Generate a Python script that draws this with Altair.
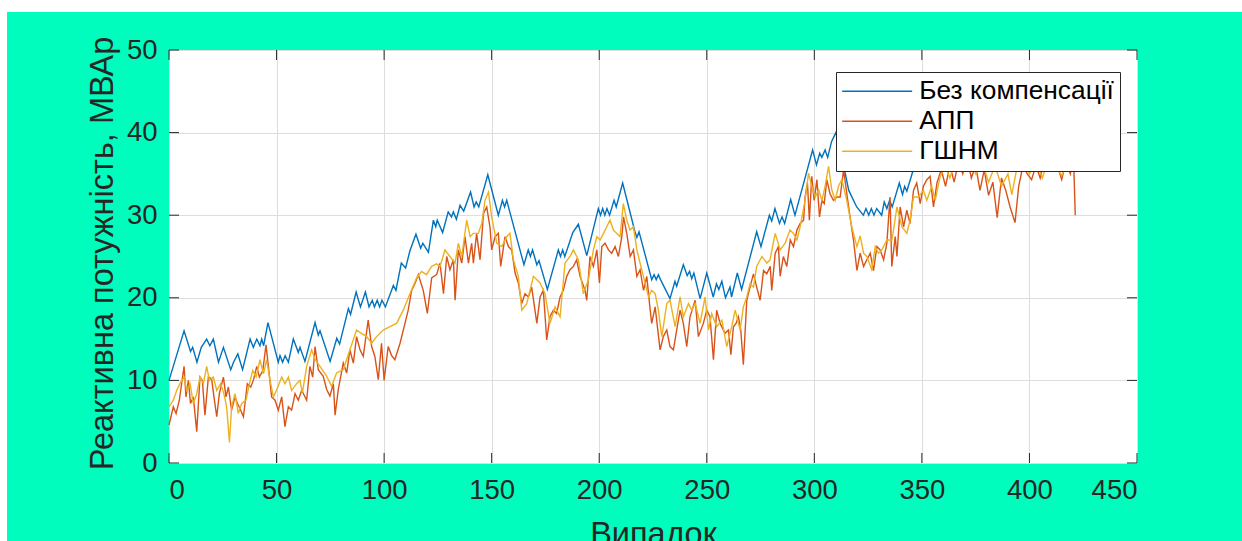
import altair as alt
import pandas as pd

# ---------------- data ----------------
series_names = ["Без компенсації", "АПП", "ГШНМ"]
series_colors = ["#0072BD", "#D95319", "#EDB120"]

x_ticks = [0, 50, 100, 150, 200, 250, 300, 350, 400, 450]
y_ticks = [0, 10, 20, 30, 40, 50]

blue_x = [0, 7, 10, 11, 13, 15, 17.5, 19, 20.6, 23, 25.3, 28.7, 30, 32, 34.2, 37.7, 39.2, 40.8, 42.3, 43.1, 44, 46,
          50.8, 51.6, 52.8, 54, 55.5, 57.8, 60.1, 60.9, 63.2, 67.9, 69.4, 70.2, 74.9, 78, 79.3, 83.4, 84.4, 87, 89,
          91.3, 93, 94.5, 95.5, 96.8, 97.9, 99, 100.6, 104.3, 105.5, 108, 110, 112, 114.8, 117, 118, 120.6, 122.9,
          124, 124.7, 127.2, 129.8, 131.3, 132.2, 133.6, 135.3, 137, 140.2, 141.8, 142.8, 144, 148.2, 153.1, 155,
          156, 157, 165, 167, 168, 169, 171, 172, 175.9, 181, 182, 183, 184, 187.7, 190.3, 194.2, 199.6, 200.6,
          201.6, 202.6, 203.6, 204.8, 206.9, 207.9, 210.9, 216.6, 217.5, 218.5, 224.4, 225.5, 226.5, 227.5, 228.5,
          232.9, 235.2, 236, 239.1, 240.9, 242, 243, 244, 246.9, 250, 253, 254.5, 255.6, 257, 258.7, 260.8, 261.5,
          264.2, 266.2, 273.2, 275.2, 279.1, 280.2, 281.7, 283.8, 285, 286.2, 289, 291, 299.2, 301, 302.5, 303.5,
          305, 306.2, 308, 310, 312, 316, 319.7, 322.8, 324, 325.3, 326.5, 327.7, 329, 331.3, 332.5, 333.7, 335,
          336.2, 339.5, 341, 342, 343, 344.5, 346, 349, 352, 356, 360, 365, 370, 375, 380, 385, 390, 395, 400, 405,
          410, 415, 420, 422]
blue_y = [10, 16, 13.5, 14, 12.2, 14, 15, 14.2, 15, 12.2, 14, 11.3, 12.2, 13.2, 11.3, 15, 14, 15, 14.2, 15, 14.2, 17,
          12.2, 13, 12.2, 13, 12.2, 15, 13.4, 14, 12.3, 17, 15.5, 16, 12.3, 15.1, 14.4, 18.7, 18, 20.7, 18.9,
          20.7, 18.9, 19.7, 18.9, 19.7, 18.9, 19.7, 18.9, 21.5, 20.9, 24.2, 23.6, 25.7, 27.7, 26, 26.6, 25.5, 29.4,
          28.6, 29.4, 27.9, 30.4, 29.8, 30.4, 29.5, 31.2, 30.5, 32.8, 31, 31.6, 31, 34.9, 30, 31.8,
          31, 31.8, 24, 25.8, 25, 25.8, 24, 24.5, 21, 25.8, 25, 25.8, 25, 27.9, 28.9, 25.1, 30.8, 30,
          30.8, 30, 30.8, 30, 31.8, 31, 33.9, 28, 27.3, 28, 22.2, 22.8, 22.2, 22.8, 22.2,
          19.9, 22, 21.4, 24, 22.7, 23.2, 22.3, 23, 19.9, 23, 20.1, 21.7, 21, 22, 20, 21.3, 20.1,
          23, 21, 28, 26.2, 30, 29.3, 30.8, 29, 29.8, 29, 31.9, 30, 37.9, 36.1, 37.5, 37,
          37.9, 37, 38.9, 40, 38, 33, 31, 30, 30.8, 30, 30.8, 30, 30.8, 30, 31.6, 30.8, 31.8,
          31, 33.9, 32.5, 33.5, 32.9, 34.2, 35.5, 37.5, 36.5, 39, 38, 41, 40, 42, 40, 41, 39, 41, 40, 42,
          41, 43, 42, 42]

app_x = [0, 2, 3.3, 4.8, 7, 7.9, 9, 10, 11.3, 12.9, 14.4, 15.5, 16.7, 18.3, 19.8, 20.9, 22.2, 23.4, 25.3, 26.5, 27.6,
         29.1, 30.7, 31.8, 33, 34.6, 36.4, 38, 39.2, 40.8, 42, 43.6, 45.1, 46.2, 47.7, 49.3, 50.8, 52.4, 53.9, 55.5,
         57, 58.6, 60.1, 61.7, 64, 65.5, 66.8, 67.9, 69.4, 71.7, 73.3, 74.8, 76.4, 77.2, 78.7, 81, 82.6, 84.1, 85.7,
         87.2, 88.8, 90.3, 92.6, 94.2, 95.7, 97.3, 98.8, 100, 101.9, 103.5, 105, 107.4, 109.7, 111.2, 112.8, 114.3,
         115.9, 118.2, 120.1, 122.1, 124.4, 126, 127.6, 129.1, 130.6, 132.2, 133, 134.5, 136.1, 137.6, 139.2, 140.7,
         141.5, 143, 144.6, 146.2, 147.7, 149.2, 150, 151.6, 153.1, 154.2, 156.2, 157.8, 159.3, 160.9, 162.4, 164,
         165.5, 167.1, 168.6, 171, 172.5, 174, 175.6, 177.1, 178.7, 180.2, 181.8, 183.3, 184.9, 186.4, 188, 189.5,
         191.1, 193.4, 194.2, 195.7, 197.3, 198.9, 200.1, 201.2, 202.7, 204.3, 205.8, 207.4, 208.9, 210.5, 211.3,
         212.8, 214.4, 215.9, 217.5, 219, 220.6, 222.1, 223.7, 224.4, 226, 228.3, 229.8, 231.4, 232.9, 234.5, 236,
         237.6, 239.1, 240.7, 242.2, 244.6, 246.1, 248.4, 250, 251.5, 253.1, 254.6, 256.2, 258.5, 260.1, 261.2,
         262.4, 263.6, 264.7, 265.8, 267, 268.6, 270.1, 271.7, 273.2, 274.8, 276.4, 277.9, 279.5, 280.2, 281.8,
         283.3, 284.1, 285.6, 287.2, 288.8, 290.3, 291.9, 293.4, 295, 295.7, 296.8, 297.7, 298.8, 299.9, 301.2,
         302.4, 303.5, 304.6, 305.8, 307.3, 308.9, 310.5, 312, 313.6, 315.1, 316.6, 318.2, 319.8, 321.3, 322.9,
         324.4, 326, 327.5, 329.1, 330.6, 332.2, 333.7, 335.2, 336, 337.6, 338.4, 339.9, 341.5, 343, 344.5, 346.1,
         347.6, 349.2, 350.7, 352.3, 353.8, 355.4, 357, 359, 361, 363, 365, 367, 369, 371, 373, 375, 377, 379, 381,
         383, 385, 387, 389, 391, 393.3, 395, 397, 399, 401, 403, 405, 407, 409, 411, 413, 415, 417, 419, 420.5,
         421.3]
app_y = [4.6, 6.8, 6, 7.6, 11.7, 8, 10, 7.2, 8, 3.8, 10.4, 10, 5.8, 10.4, 10.2, 8, 5.6, 8.4, 10.4, 8, 9.2,
         6.4, 8, 7.2, 6.6, 5.6, 9.6, 9.2, 10, 11.7, 10.4, 11.2, 14.3, 11.7, 8, 7.6, 6.4, 8, 4.4, 6.8,
         6.4, 8.4, 7.6, 8.8, 7.6, 11.7, 10.4, 14.1, 11.3, 10.5, 8.9, 8.1, 9.6, 5.8, 8.9, 12.1, 10.9, 13.7, 12.1,
         15.3, 13.7, 12.9, 17.3, 14.1, 12.9, 10.1, 14.5, 10, 14.1, 13, 12.5, 14.5, 16.9, 18.5, 20.9, 21.7,
         22.8, 20.9, 18.1, 22.4, 22.8, 24.2, 20.5, 25, 23.4, 24.6, 19.7, 25.8, 24.2, 27.4, 24.2, 26.6,
         24.2, 27.8, 24.6, 30.2, 31, 28.6, 25.8, 27.4, 27.8, 23.8, 27.4, 26.2, 25.8, 23, 21.8, 19.3,
         20.5, 20.1, 21.3, 16.9, 20.1, 20.9, 14.9, 17.7, 18.5, 18.1, 20.1, 20.9, 22.6, 23.4, 23.8, 24.6,
         22.6, 20.9, 19.7, 25, 23.8, 25.8, 21.8, 26.2, 26.6, 25.8, 25.4, 26.2, 25, 27.4, 29.8,
         27.8, 25, 25.8, 22.6, 23.4, 20.9, 22.6, 18.5, 16.9, 18.9, 13.7, 15.3, 16.1, 14.1, 13.7, 16.1,
         18.5, 16.9, 14.1, 17.7, 19.7, 15.3, 16.9, 18.5, 17.7, 12.5, 18.5, 16.9, 15.7, 16.1, 13.1,
         16.5, 16.9, 17.7, 16.1, 11.9, 19.7, 21.3, 22.9, 21.3, 19.7, 23.3, 22.9, 23.8, 20.9, 25.4,
         26.2, 22.6, 25, 23.8, 27, 26.2, 28.2, 29, 29.4, 32.2, 33.9, 29.4, 34.7, 31.8, 34.3,
         29.8, 31.8, 31.4, 34.3, 32.6, 31.8, 32.2, 32.2, 35.5, 32.6, 29.8, 27, 23.3, 25.4, 23.8,
         24.6, 25.4, 23.3, 26.2, 25.8, 24.6, 26.6, 32.2, 23.8, 27.4, 25, 31, 28.6, 30.6, 29, 33,
         33.9, 31.4, 33.5, 34.3, 34.7, 31, 33.9, 35.5, 33.5, 36, 34, 36.5, 35, 37, 34.5, 36, 33, 35.5, 32.4,
         34, 29.7, 34.5, 33, 31, 29.1, 33.5, 36, 35, 34.3, 36, 34.5, 37, 35.5, 38, 36, 34.3, 36.5, 35, 37,
         30]

gshnm_x = [0, 2, 3.6, 5.1, 7, 8.2, 9.8, 11.3, 12.9, 14.4, 16, 17.5, 18.8, 20.6, 22.2, 24, 25.5, 26.8, 28.1, 29.1,
           30.7, 32.2, 33.8, 35.8, 37.4, 38.9, 40.5, 42.3, 43.9, 45.4, 47, 48.5, 50, 52.4, 53.9, 55.5, 57, 59.3,
           60.9, 62, 64, 66.3, 68, 70.2, 73.3, 75.6, 77.9, 81, 84.1, 87.2, 89.5, 91.9, 94.2, 96.5, 99.6, 102.7,
           105.8, 108.9, 112, 115.1, 117.4, 119.7, 122.1, 124.4, 126, 128.3, 130.6, 133, 134.5, 136.1, 138.4, 140,
           141.5, 143.8, 145.4, 146.9, 148.5, 150, 152.4, 154.7, 157, 158.5, 160.1, 162.4, 164, 166.3, 169.4,
           172.5, 174.8, 177.1, 179.5, 181.8, 184.1, 186.4, 188, 190.3, 192.6, 195, 197.3, 198.9, 200.4, 202,
           203.5, 205, 206.6, 208.1, 209.7, 211.2, 212.8, 214.3, 215.9, 217.5, 219, 221.3, 222.9, 224.4, 226,
           227.5, 229.1, 231.4, 232.9, 235.3, 237.6, 239.1, 241.5, 243, 244.6, 246.9, 249.2, 250.8, 252.3, 254.6,
           257, 259.3, 261.6, 263.2, 265.5, 267, 268.6, 270.1, 271.7, 273.2, 275.6, 277.9, 279.4, 281.8, 284.1,
           286.4, 288.7, 290.3, 291.9, 293.4, 295.7, 297.3, 298.8, 300.4, 302, 303.5, 305, 306.6, 308.1, 309.7,
           311.2, 312.8, 315.1, 317.4, 319.8, 321.3, 322.9, 324.4, 326.7, 328.3, 329.8, 331.4, 333.7, 336.1,
           338.4, 340.7, 343, 344.5, 346.1, 348.4, 350.7, 352.3, 354.6, 356.2, 358.5, 361, 363, 366, 369, 372,
           375, 378, 381, 384, 387, 390, 391.8, 394, 397, 400, 403, 406, 409, 412, 415, 418, 421]
gshnm_y = [6.8, 7.6, 8.8, 9.6, 10.4, 8.8, 9.6, 7.2, 8.4, 10.4, 9.6, 11.7, 10, 10.4, 8.8, 9.6, 8.4, 6.8, 2.5, 6.8,
           8.4, 6, 7.2, 7.6, 9.6, 11.2, 10.4, 12.5, 10.8, 12.5, 10, 8, 8.8, 10.4, 9.6, 10.4, 8.8, 9.6,
           10, 8.5, 11.7, 13.7, 12.5, 11.7, 10.5, 9.3, 10.9, 11.3, 13.7, 16.1, 15.7, 15.3, 14.5, 15.3, 16.1, 16.5,
           16.9, 18.5, 20.5, 22.4, 23.2, 22.8, 23.8, 24.1, 23.8, 25.8, 25, 24.2, 26.6, 25, 29.4, 27.4,
           27.8, 27.8, 29, 31.8, 32.8, 29.8, 26.6, 26.2, 27.4, 27.8, 24.6, 22.6, 18.5, 19.3, 22.6,
           21.8, 20.5, 16.9, 18.9, 17.7, 24.2, 25, 25.8, 24.6, 20.5, 22.2, 25.8, 27.4, 27, 27.8,
           28.6, 29.4, 28.2, 27.8, 27.4, 31.4, 29.4, 28.2, 28.6, 25.8, 24.2, 21.8, 20.1, 20.9, 20.5,
           18.5, 15.3, 19.3, 19.7, 16.5, 20.1, 17.7, 19.3, 18.5, 19.3, 16.9, 20.1, 16.1, 18.1, 16.5,
           17.3, 14.1, 16.5, 18.5, 16.1, 18.9, 20.1, 21.7, 21.3, 23.8, 25, 24.2, 24.6, 27.8, 25.8,
           26.6, 28.2, 27.8, 27, 28.6, 31.8, 35.1, 33.5, 32.2, 33.1, 31.8, 33.5, 35.9, 33.1, 31.8,
           33.5, 34.3, 31.8, 28.6, 26.2, 27.5, 25.4, 25, 23.4, 26.2, 25.4, 25.8, 27, 27,
           31, 28.6, 27.8, 29.4, 32.2, 32.2, 33, 31.8, 33.5, 31.8, 34.7, 36, 34.5, 37, 35.5, 37.5,
           35, 36.5, 34, 36, 33.5, 35, 32.5, 35.5, 37, 35, 36.5, 34.5, 37, 36, 34.8, 36.5, 35.5]

# ---------------- layout ----------------
W, H = 968, 413
FONT = "Liberation Sans"
DARK = "#262626"

df_blue = pd.DataFrame({"x": blue_x, "y": blue_y, "s": series_names[0]})
df_app = pd.DataFrame({"x": app_x, "y": app_y, "s": series_names[1]})
df_gshnm = pd.DataFrame({"x": gshnm_x, "y": gshnm_y, "s": series_names[2]})

x_scale = alt.Scale(domain=[0, 450], nice=False, zero=False)
y_scale = alt.Scale(domain=[0, 50], nice=False, zero=False)

x_axis = alt.Axis(values=x_ticks, title="Випадок", grid=True, ticks=False, tickSize=0, domain=False,
                  labelPadding=13, titleX=484, titleY=81, titleBaseline="alphabetic", titleAlign="center")
y_axis = alt.Axis(values=y_ticks, title="Реактивна потужність, МВАр", grid=True, ticks=False, tickSize=0,
                  domain=False, labelPadding=12, titleX=-57, titleY=203, titleAngle=-90,
                  titleBaseline="alphabetic", titleAlign="center")

color = alt.Color(
    "s:N",
    scale=alt.Scale(domain=series_names, range=series_colors),
    legend=alt.Legend(
        title=None, orient="none", legendX=667, legendY=22,
        symbolType="M-5,0H5", symbolSize=196, symbolStrokeWidth=1.5, symbolOffset=22,
        symbolFillColor="transparent",
        labelFont=FONT, labelFontSize=26.3, labelColor="black", labelOffset=29, labelLimit=500,
        padding=6, fillColor="white", strokeColor=DARK, rowPadding=3,
    ),
)


def line_layer(df):
    return alt.Chart(df).mark_line(strokeWidth=1.4).encode(
        x=alt.X("x:Q", scale=x_scale, axis=x_axis),
        y=alt.Y("y:Q", scale=y_scale, axis=y_axis),
        color=color,
    )


# inside tick marks (MATLAB box style)
df_xt = pd.DataFrame({"x": x_ticks})
df_yt = pd.DataFrame({"y": y_ticks})
tick_style = dict(color=DARK, strokeWidth=1)
xt_bottom = alt.Chart(df_xt).mark_rule(**tick_style).encode(
    x=alt.X("x:Q", scale=x_scale, axis=x_axis), y=alt.value(H), y2=alt.value(H - 10))
xt_top = alt.Chart(df_xt).mark_rule(**tick_style).encode(
    x=alt.X("x:Q", scale=x_scale, axis=x_axis), y=alt.value(0), y2=alt.value(10))
yt_left = alt.Chart(df_yt).mark_rule(**tick_style).encode(
    y=alt.Y("y:Q", scale=y_scale, axis=y_axis), x=alt.value(0), x2=alt.value(10))
yt_right = alt.Chart(df_yt).mark_rule(**tick_style).encode(
    y=alt.Y("y:Q", scale=y_scale, axis=y_axis), x=alt.value(W - 10), x2=alt.value(W))

# white page margin strips at the top and left of the figure
df_one = pd.DataFrame({"a": [0]})
strip_top = alt.Chart(df_one).mark_rect(color="white").encode(
    x=alt.value(-169), x2=alt.value(1073), y=alt.value(-50), y2=alt.value(-38))
strip_left = alt.Chart(df_one).mark_rect(color="white").encode(
    x=alt.value(-169), x2=alt.value(-162), y=alt.value(-50), y2=alt.value(491))

chart = alt.layer(
    strip_top, strip_left,
    line_layer(df_blue), line_layer(df_app), line_layer(df_gshnm),
    xt_bottom, xt_top, yt_left, yt_right,
).properties(
    width=W, height=H,
    autosize=alt.AutoSizeParams(type="none"),
    padding={"left": 169, "top": 50, "right": 105, "bottom": 78},
    background="#00FDBD",
).configure_view(
    stroke=DARK, strokeWidth=1, fill="white",
).configure_axis(
    labelFont=FONT, labelFontSize=27.5, labelColor=DARK,
    titleFont=FONT, titleFontSize=32.5, titleColor=DARK, titleFontWeight="normal",
    gridColor="#dedede", gridWidth=1,
)

chart.save("out.html", embed_options={"renderer": "svg", "actions": False})
